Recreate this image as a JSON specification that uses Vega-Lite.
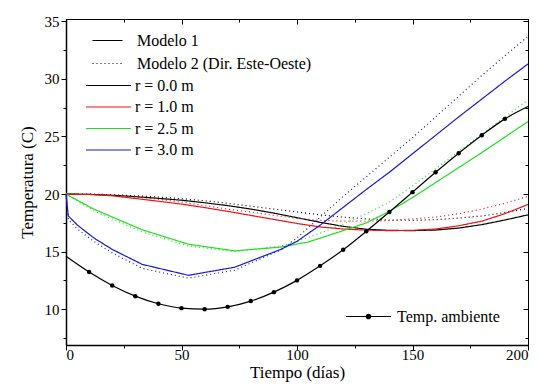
{
"$schema": "https://vega.github.io/schema/vega-lite/v6.json",
"width": 462, "height": 326,
"autosize": {"type": "none"},
"padding": {"left": 66, "top": 19, "right": 13, "bottom": 40},
"config": {
  "font": "Liberation Serif",
  "view": {"stroke": "black", "strokeWidth": 1},
  "axis": {"labelFont": "Liberation Serif", "labelFontSize": 15, "labelColor": "black", "titleFont": "Liberation Serif", "titleFontSize": 17, "titleFontWeight": "normal", "titleColor": "black", "domainColor": "black", "tickColor": "black", "grid": false},
  "legend": {"labelFont": "Liberation Serif", "labelFontSize": 16, "labelColor": "black", "padding": 0, "orient": "none", "labelLimit": 400}
},
"datasets": {
"curves": [
{"t":0,"T":20,"r":"r = 0.0 m","m":"Modelo 1"},{"t":10,"T":19.98,"r":"r = 0.0 m","m":"Modelo 1"},{"t":20,"T":19.9,"r":"r = 0.0 m","m":"Modelo 1"},{"t":30,"T":19.78,"r":"r = 0.0 m","m":"Modelo 1"},{"t":40,"T":19.63,"r":"r = 0.0 m","m":"Modelo 1"},{"t":50,"T":19.47,"r":"r = 0.0 m","m":"Modelo 1"},{"t":60,"T":19.25,"r":"r = 0.0 m","m":"Modelo 1"},{"t":70,"T":19.0,"r":"r = 0.0 m","m":"Modelo 1"},{"t":80,"T":18.7,"r":"r = 0.0 m","m":"Modelo 1"},{"t":90,"T":18.35,"r":"r = 0.0 m","m":"Modelo 1"},{"t":100,"T":17.95,"r":"r = 0.0 m","m":"Modelo 1"},{"t":110,"T":17.55,"r":"r = 0.0 m","m":"Modelo 1"},{"t":120,"T":17.2,"r":"r = 0.0 m","m":"Modelo 1"},{"t":130,"T":16.95,"r":"r = 0.0 m","m":"Modelo 1"},{"t":140,"T":16.85,"r":"r = 0.0 m","m":"Modelo 1"},{"t":150,"T":16.83,"r":"r = 0.0 m","m":"Modelo 1"},{"t":160,"T":16.88,"r":"r = 0.0 m","m":"Modelo 1"},{"t":170,"T":17.05,"r":"r = 0.0 m","m":"Modelo 1"},{"t":180,"T":17.35,"r":"r = 0.0 m","m":"Modelo 1"},{"t":190,"T":17.75,"r":"r = 0.0 m","m":"Modelo 1"},{"t":200,"T":18.2,"r":"r = 0.0 m","m":"Modelo 1"},
{"t":0,"T":20,"r":"r = 0.0 m","m":"Modelo 2 (Dir. Este-Oeste)"},{"t":10,"T":20,"r":"r = 0.0 m","m":"Modelo 2 (Dir. Este-Oeste)"},{"t":20,"T":19.95,"r":"r = 0.0 m","m":"Modelo 2 (Dir. Este-Oeste)"},{"t":30,"T":19.85,"r":"r = 0.0 m","m":"Modelo 2 (Dir. Este-Oeste)"},{"t":40,"T":19.75,"r":"r = 0.0 m","m":"Modelo 2 (Dir. Este-Oeste)"},{"t":50,"T":19.6,"r":"r = 0.0 m","m":"Modelo 2 (Dir. Este-Oeste)"},{"t":60,"T":19.42,"r":"r = 0.0 m","m":"Modelo 2 (Dir. Este-Oeste)"},{"t":70,"T":19.2,"r":"r = 0.0 m","m":"Modelo 2 (Dir. Este-Oeste)"},{"t":80,"T":18.95,"r":"r = 0.0 m","m":"Modelo 2 (Dir. Este-Oeste)"},{"t":90,"T":18.7,"r":"r = 0.0 m","m":"Modelo 2 (Dir. Este-Oeste)"},{"t":100,"T":18.45,"r":"r = 0.0 m","m":"Modelo 2 (Dir. Este-Oeste)"},{"t":110,"T":18.2,"r":"r = 0.0 m","m":"Modelo 2 (Dir. Este-Oeste)"},{"t":120,"T":18.0,"r":"r = 0.0 m","m":"Modelo 2 (Dir. Este-Oeste)"},{"t":130,"T":17.85,"r":"r = 0.0 m","m":"Modelo 2 (Dir. Este-Oeste)"},{"t":140,"T":17.75,"r":"r = 0.0 m","m":"Modelo 2 (Dir. Este-Oeste)"},{"t":150,"T":17.72,"r":"r = 0.0 m","m":"Modelo 2 (Dir. Este-Oeste)"},{"t":160,"T":17.78,"r":"r = 0.0 m","m":"Modelo 2 (Dir. Este-Oeste)"},{"t":170,"T":17.92,"r":"r = 0.0 m","m":"Modelo 2 (Dir. Este-Oeste)"},{"t":180,"T":18.1,"r":"r = 0.0 m","m":"Modelo 2 (Dir. Este-Oeste)"},{"t":190,"T":18.4,"r":"r = 0.0 m","m":"Modelo 2 (Dir. Este-Oeste)"},{"t":200,"T":18.75,"r":"r = 0.0 m","m":"Modelo 2 (Dir. Este-Oeste)"},
{"t":0,"T":20,"r":"r = 1.0 m","m":"Modelo 1"},{"t":10,"T":19.97,"r":"r = 1.0 m","m":"Modelo 1"},{"t":20,"T":19.85,"r":"r = 1.0 m","m":"Modelo 1"},{"t":30,"T":19.62,"r":"r = 1.0 m","m":"Modelo 1"},{"t":40,"T":19.38,"r":"r = 1.0 m","m":"Modelo 1"},{"t":50,"T":19.13,"r":"r = 1.0 m","m":"Modelo 1"},{"t":60,"T":18.83,"r":"r = 1.0 m","m":"Modelo 1"},{"t":70,"T":18.5,"r":"r = 1.0 m","m":"Modelo 1"},{"t":80,"T":18.15,"r":"r = 1.0 m","m":"Modelo 1"},{"t":90,"T":17.8,"r":"r = 1.0 m","m":"Modelo 1"},{"t":100,"T":17.45,"r":"r = 1.0 m","m":"Modelo 1"},{"t":110,"T":17.15,"r":"r = 1.0 m","m":"Modelo 1"},{"t":120,"T":16.97,"r":"r = 1.0 m","m":"Modelo 1"},{"t":130,"T":16.87,"r":"r = 1.0 m","m":"Modelo 1"},{"t":140,"T":16.83,"r":"r = 1.0 m","m":"Modelo 1"},{"t":150,"T":16.85,"r":"r = 1.0 m","m":"Modelo 1"},{"t":160,"T":16.97,"r":"r = 1.0 m","m":"Modelo 1"},{"t":170,"T":17.25,"r":"r = 1.0 m","m":"Modelo 1"},{"t":180,"T":17.65,"r":"r = 1.0 m","m":"Modelo 1"},{"t":190,"T":18.3,"r":"r = 1.0 m","m":"Modelo 1"},{"t":200,"T":19.1,"r":"r = 1.0 m","m":"Modelo 1"},
{"t":0,"T":20,"r":"r = 1.0 m","m":"Modelo 2 (Dir. Este-Oeste)"},{"t":10,"T":19.98,"r":"r = 1.0 m","m":"Modelo 2 (Dir. Este-Oeste)"},{"t":20,"T":19.9,"r":"r = 1.0 m","m":"Modelo 2 (Dir. Este-Oeste)"},{"t":30,"T":19.75,"r":"r = 1.0 m","m":"Modelo 2 (Dir. Este-Oeste)"},{"t":40,"T":19.55,"r":"r = 1.0 m","m":"Modelo 2 (Dir. Este-Oeste)"},{"t":50,"T":19.3,"r":"r = 1.0 m","m":"Modelo 2 (Dir. Este-Oeste)"},{"t":60,"T":19.0,"r":"r = 1.0 m","m":"Modelo 2 (Dir. Este-Oeste)"},{"t":70,"T":18.7,"r":"r = 1.0 m","m":"Modelo 2 (Dir. Este-Oeste)"},{"t":80,"T":18.45,"r":"r = 1.0 m","m":"Modelo 2 (Dir. Este-Oeste)"},{"t":90,"T":18.15,"r":"r = 1.0 m","m":"Modelo 2 (Dir. Este-Oeste)"},{"t":100,"T":17.9,"r":"r = 1.0 m","m":"Modelo 2 (Dir. Este-Oeste)"},{"t":110,"T":17.72,"r":"r = 1.0 m","m":"Modelo 2 (Dir. Este-Oeste)"},{"t":120,"T":17.65,"r":"r = 1.0 m","m":"Modelo 2 (Dir. Este-Oeste)"},{"t":130,"T":17.65,"r":"r = 1.0 m","m":"Modelo 2 (Dir. Este-Oeste)"},{"t":140,"T":17.7,"r":"r = 1.0 m","m":"Modelo 2 (Dir. Este-Oeste)"},{"t":150,"T":17.85,"r":"r = 1.0 m","m":"Modelo 2 (Dir. Este-Oeste)"},{"t":160,"T":18.0,"r":"r = 1.0 m","m":"Modelo 2 (Dir. Este-Oeste)"},{"t":170,"T":18.3,"r":"r = 1.0 m","m":"Modelo 2 (Dir. Este-Oeste)"},{"t":180,"T":18.7,"r":"r = 1.0 m","m":"Modelo 2 (Dir. Este-Oeste)"},{"t":190,"T":19.2,"r":"r = 1.0 m","m":"Modelo 2 (Dir. Este-Oeste)"},{"t":200,"T":19.8,"r":"r = 1.0 m","m":"Modelo 2 (Dir. Este-Oeste)"},
{"t":0,"T":20,"r":"r = 2.5 m","m":"Modelo 1"},{"t":12,"T":18.7,"r":"r = 2.5 m","m":"Modelo 1"},{"t":33,"T":16.9,"r":"r = 2.5 m","m":"Modelo 1"},{"t":53,"T":15.65,"r":"r = 2.5 m","m":"Modelo 1"},{"t":73,"T":15.07,"r":"r = 2.5 m","m":"Modelo 1"},{"t":93,"T":15.4,"r":"r = 2.5 m","m":"Modelo 1"},{"t":105,"T":15.85,"r":"r = 2.5 m","m":"Modelo 1"},{"t":115,"T":16.5,"r":"r = 2.5 m","m":"Modelo 1"},{"t":130,"T":17.5,"r":"r = 2.5 m","m":"Modelo 1"},{"t":140,"T":18.5,"r":"r = 2.5 m","m":"Modelo 1"},{"t":150,"T":19.7,"r":"r = 2.5 m","m":"Modelo 1"},{"t":160,"T":21.0,"r":"r = 2.5 m","m":"Modelo 1"},{"t":170,"T":22.3,"r":"r = 2.5 m","m":"Modelo 1"},{"t":180,"T":23.6,"r":"r = 2.5 m","m":"Modelo 1"},{"t":190,"T":24.95,"r":"r = 2.5 m","m":"Modelo 1"},{"t":200,"T":26.3,"r":"r = 2.5 m","m":"Modelo 1"},
{"t":0,"T":20,"r":"r = 2.5 m","m":"Modelo 2 (Dir. Este-Oeste)"},{"t":12,"T":18.55,"r":"r = 2.5 m","m":"Modelo 2 (Dir. Este-Oeste)"},{"t":33,"T":16.7,"r":"r = 2.5 m","m":"Modelo 2 (Dir. Este-Oeste)"},{"t":53,"T":15.5,"r":"r = 2.5 m","m":"Modelo 2 (Dir. Este-Oeste)"},{"t":73,"T":15.0,"r":"r = 2.5 m","m":"Modelo 2 (Dir. Este-Oeste)"},{"t":93,"T":15.5,"r":"r = 2.5 m","m":"Modelo 2 (Dir. Este-Oeste)"},{"t":100,"T":15.9,"r":"r = 2.5 m","m":"Modelo 2 (Dir. Este-Oeste)"},{"t":110,"T":16.6,"r":"r = 2.5 m","m":"Modelo 2 (Dir. Este-Oeste)"},{"t":120,"T":17.4,"r":"r = 2.5 m","m":"Modelo 2 (Dir. Este-Oeste)"},{"t":130,"T":18.3,"r":"r = 2.5 m","m":"Modelo 2 (Dir. Este-Oeste)"},{"t":140,"T":19.3,"r":"r = 2.5 m","m":"Modelo 2 (Dir. Este-Oeste)"},{"t":150,"T":20.7,"r":"r = 2.5 m","m":"Modelo 2 (Dir. Este-Oeste)"},{"t":160,"T":22.2,"r":"r = 2.5 m","m":"Modelo 2 (Dir. Este-Oeste)"},{"t":170,"T":23.7,"r":"r = 2.5 m","m":"Modelo 2 (Dir. Este-Oeste)"},{"t":180,"T":25.2,"r":"r = 2.5 m","m":"Modelo 2 (Dir. Este-Oeste)"},{"t":190,"T":26.7,"r":"r = 2.5 m","m":"Modelo 2 (Dir. Este-Oeste)"},{"t":200,"T":28.15,"r":"r = 2.5 m","m":"Modelo 2 (Dir. Este-Oeste)"},
{"t":0,"T":20,"r":"r = 3.0 m","m":"Modelo 1"},{"t":1,"T":18.1,"r":"r = 3.0 m","m":"Modelo 1"},{"t":5,"T":17.3,"r":"r = 3.0 m","m":"Modelo 1"},{"t":12,"T":16.2,"r":"r = 3.0 m","m":"Modelo 1"},{"t":20,"T":15.2,"r":"r = 3.0 m","m":"Modelo 1"},{"t":33,"T":13.9,"r":"r = 3.0 m","m":"Modelo 1"},{"t":53,"T":12.95,"r":"r = 3.0 m","m":"Modelo 1"},{"t":73,"T":13.65,"r":"r = 3.0 m","m":"Modelo 1"},{"t":93,"T":15.2,"r":"r = 3.0 m","m":"Modelo 1"},{"t":100,"T":15.9,"r":"r = 3.0 m","m":"Modelo 1"},{"t":110,"T":17.3,"r":"r = 3.0 m","m":"Modelo 1"},{"t":120,"T":18.85,"r":"r = 3.0 m","m":"Modelo 1"},{"t":130,"T":20.4,"r":"r = 3.0 m","m":"Modelo 1"},{"t":140,"T":21.9,"r":"r = 3.0 m","m":"Modelo 1"},{"t":150,"T":23.5,"r":"r = 3.0 m","m":"Modelo 1"},{"t":160,"T":25.1,"r":"r = 3.0 m","m":"Modelo 1"},{"t":170,"T":26.7,"r":"r = 3.0 m","m":"Modelo 1"},{"t":180,"T":28.25,"r":"r = 3.0 m","m":"Modelo 1"},{"t":190,"T":29.8,"r":"r = 3.0 m","m":"Modelo 1"},{"t":200,"T":31.3,"r":"r = 3.0 m","m":"Modelo 1"},
{"t":0,"T":20,"r":"r = 3.0 m","m":"Modelo 2 (Dir. Este-Oeste)"},{"t":1,"T":17.8,"r":"r = 3.0 m","m":"Modelo 2 (Dir. Este-Oeste)"},{"t":5,"T":16.95,"r":"r = 3.0 m","m":"Modelo 2 (Dir. Este-Oeste)"},{"t":12,"T":15.9,"r":"r = 3.0 m","m":"Modelo 2 (Dir. Este-Oeste)"},{"t":20,"T":14.9,"r":"r = 3.0 m","m":"Modelo 2 (Dir. Este-Oeste)"},{"t":33,"T":13.55,"r":"r = 3.0 m","m":"Modelo 2 (Dir. Este-Oeste)"},{"t":53,"T":12.7,"r":"r = 3.0 m","m":"Modelo 2 (Dir. Este-Oeste)"},{"t":73,"T":13.4,"r":"r = 3.0 m","m":"Modelo 2 (Dir. Este-Oeste)"},{"t":93,"T":15.15,"r":"r = 3.0 m","m":"Modelo 2 (Dir. Este-Oeste)"},{"t":100,"T":16.2,"r":"r = 3.0 m","m":"Modelo 2 (Dir. Este-Oeste)"},{"t":110,"T":18.0,"r":"r = 3.0 m","m":"Modelo 2 (Dir. Este-Oeste)"},{"t":120,"T":19.8,"r":"r = 3.0 m","m":"Modelo 2 (Dir. Este-Oeste)"},{"t":130,"T":21.5,"r":"r = 3.0 m","m":"Modelo 2 (Dir. Este-Oeste)"},{"t":140,"T":23.2,"r":"r = 3.0 m","m":"Modelo 2 (Dir. Este-Oeste)"},{"t":150,"T":24.9,"r":"r = 3.0 m","m":"Modelo 2 (Dir. Este-Oeste)"},{"t":160,"T":26.7,"r":"r = 3.0 m","m":"Modelo 2 (Dir. Este-Oeste)"},{"t":170,"T":28.5,"r":"r = 3.0 m","m":"Modelo 2 (Dir. Este-Oeste)"},{"t":180,"T":30.3,"r":"r = 3.0 m","m":"Modelo 2 (Dir. Este-Oeste)"},{"t":190,"T":32.0,"r":"r = 3.0 m","m":"Modelo 2 (Dir. Este-Oeste)"},{"t":200,"T":33.7,"r":"r = 3.0 m","m":"Modelo 2 (Dir. Este-Oeste)"}
],
"amb": [
{"t":0,"T":14.6},{"t":10,"T":13.23},{"t":20,"T":12.07},{"t":30,"T":11.14},{"t":40,"T":10.48},{"t":50,"T":10.1},{"t":60,"T":10.01},{"t":70,"T":10.21},{"t":80,"T":10.71},{"t":90,"T":11.49},{"t":100,"T":12.51},{"t":110,"T":13.77},{"t":120,"T":15.17},{"t":130,"T":16.77},{"t":140,"T":18.45},{"t":150,"T":20.17},{"t":160,"T":21.89},{"t":170,"T":23.55},{"t":180,"T":25.11},{"t":190,"T":26.53},{"t":200,"T":27.6}
]
},
"layer": [
{
  "data": {"name": "curves"},
  "mark": {"type": "line", "strokeWidth": 1.2},
  "encoding": {
    "x": {"field": "t", "type": "quantitative", "scale": {"domain": [0, 200], "nice": false},
          "axis": {"title": "Tiempo (días)", "labelFont": "Liberation Serif", "titleFont": "Liberation Serif", "values": [0,25,50,75,100,125,150,175,200], "labelExpr": "datum.value % 50 == 0 ? datum.label : ''", "tickSize": {"condition": {"test": "datum.value % 50 == 0", "value": 5}, "value": 3}, "labelPadding": -3, "titlePadding": 2, "domainWidth": 1.5}},
    "y": {"field": "T", "type": "quantitative", "scale": {"domain": [6.9, 35.2], "nice": false, "zero": false},
          "axis": {"title": "Temperatura (C)", "labelFont": "Liberation Serif", "titleFont": "Liberation Serif", "values": [7.5,10,12.5,15,17.5,20,22.5,25,27.5,30,32.5,35], "labelExpr": "datum.value % 5 == 0 ? datum.label : ''", "tickSize": {"condition": {"test": "datum.value % 5 == 0", "value": 5}, "value": 3}, "labelPadding": 2, "titlePadding": 8, "domainWidth": 1.5}},
    "color": {"field": "r", "type": "nominal", "scale": {"domain": ["r = 0.0 m", "r = 1.0 m", "r = 2.5 m", "r = 3.0 m"], "range": ["#000000", "#ee1111", "#22dd22", "#1a1acc"]},
              "legend": {"title": null, "orient": "none", "legendX": 34, "legendY": 58, "symbolType": "M-3,0H3", "symbolSize": 225, "symbolStrokeWidth": 1.2, "symbolFillColor": "transparent", "rowPadding": 4.5, "labelOffset": 18,
                         "encode": {"symbols": {"update": {"stroke": {"scale": "color", "field": "value"}, "strokeDash": {"value": [1, 0]}}}}}},
    "strokeDash": {"field": "m", "type": "nominal", "scale": {"domain": ["Modelo 1", "Modelo 2 (Dir. Este-Oeste)"], "range": [[1, 0], [1, 3]]},
              "legend": {"title": null, "orient": "none", "legendX": 33, "legendY": 13, "symbolType": "M-2,0H2", "symbolSize": 225, "symbolStrokeColor": "black", "symbolStrokeWidth": 1.2, "symbolFillColor": "transparent", "rowPadding": 6, "labelOffset": 21}}
  }
},
{
  "data": {"name": "amb"},
  "mark": {"type": "line", "strokeWidth": 1.2, "interpolate": "monotone"},
  "encoding": {
    "x": {"field": "t", "type": "quantitative", "axis": {"orient": "top", "title": null, "labels": false, "values": [0,25,50,75,100,125,150,175,200], "tickSize": {"condition": {"test": "datum.value % 50 == 0", "value": -5}, "value": -3}, "domainWidth": 1}},
    "y": {"field": "T", "type": "quantitative", "axis": {"orient": "right", "title": null, "labels": false, "values": [7.5,10,12.5,15,17.5,20,22.5,25,27.5,30,32.5,35], "tickSize": {"condition": {"test": "datum.value % 5 == 0", "value": -5}, "value": -3}, "domainWidth": 1}},
    "stroke": {"datum": "Temp. ambiente", "scale": {"range": ["black"]},
              "legend": {"title": null, "orient": "none", "legendX": 294, "legendY": 289, "symbolType": "M-3,0H3M-0.3,0A0.3,0.3,0,1,0,0.3,0A0.3,0.3,0,1,0,-0.3,0Z", "symbolSize": 225, "symbolStrokeWidth": 1.2, "symbolFillColor": "black", "labelOffset": 20}}
  }
},
{
  "data": {"name": "amb"},
  "transform": [{"filter": "datum.t > 0 && datum.t < 200"}],
  "mark": {"type": "circle", "size": 20, "color": "black", "opacity": 1},
  "encoding": {
    "x": {"field": "t", "type": "quantitative", "axis": null},
    "y": {"field": "T", "type": "quantitative", "axis": null}
  }
}
],
"resolve": {"axis": {"x": "independent", "y": "independent"}}
}
